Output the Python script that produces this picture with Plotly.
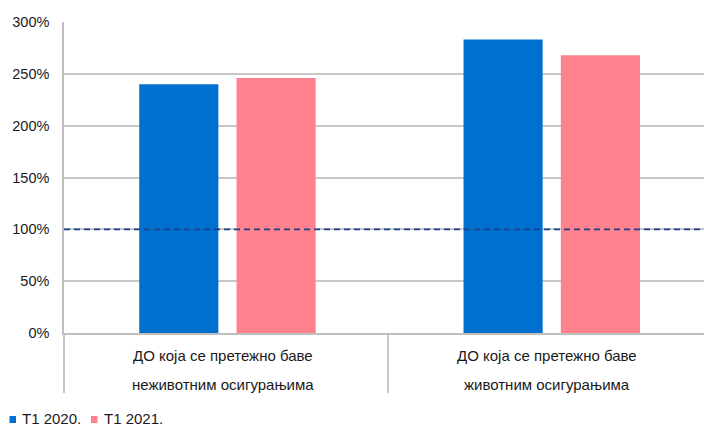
import plotly.graph_objects as go

# Category labels (two lines each), series names and values in percent
categories = [
    ["ДО која се претежно баве", "неживотним осигурањима"],
    ["ДО која се претежно баве", "животним осигурањима"],
]
series_names = ["Т1 2020.", "Т1 2021."]
values_2020 = [240, 283]
values_2021 = [246, 268]
threshold = 100
y_ticks = [0, 50, 100, 150, 200, 250, 300]
y_tick_labels = ["0%", "50%", "100%", "150%", "200%", "250%", "300%"]

colors = ["#0070CE", "#FF818E"]
FONT = "Liberation Sans, Arial, sans-serif"

W, H = 704, 426
L, R, T, B = 64, 0, 22, 93
plot_w = W - L - R
plot_h = H - T - B

x_pos = list(range(len(categories)))

# bar geometry in category units
BAR_W = 0.244
OFFSETS = [-0.268, 0.032]

fig = go.Figure()
for name, vals, col, off in zip(series_names, [values_2020, values_2021], colors, OFFSETS):
    fig.add_trace(go.Bar(
        x=x_pos, y=vals, name=name, width=BAR_W, offset=off,
        marker=dict(color=col, line=dict(width=0)),
        showlegend=False,
    ))

# 100% reference line
fig.add_trace(go.Scatter(
    x=[-0.5, 1.5], y=[threshold, threshold], mode="lines",
    line=dict(color="#1F3F8C", width=1.6, dash="6px,4px"),
    showlegend=False, hoverinfo="skip",
))

fig.update_layout(
    width=W, height=H,
    margin=dict(l=L, r=R, t=T, b=B),
    paper_bgcolor="white", plot_bgcolor="white",
    barmode="overlay",
    font=dict(family=FONT, size=14, color="#1a1a1a"),
    xaxis=dict(
        range=[-0.5, 1.4735], tickvals=x_pos, ticktext=["", ""],
        showgrid=False, zeroline=False, showline=True, linecolor="#BFBFBF", linewidth=1.5,
        ticks="", fixedrange=True,
        minor=dict(tick0=0.5, dtick=1, ticks="outside", ticklen=58,
                   tickcolor="#C8C8C8", tickwidth=1.5, showgrid=False),
    ),
    yaxis=dict(
        range=[0, 300], tickvals=y_ticks, ticktext=y_tick_labels,
        showgrid=True, gridcolor="#C8C8C8", gridwidth=1.5,
        zeroline=False, showline=True, linecolor="#BFBFBF", linewidth=1.5,
        ticks="", ticklabelstandoff=10, tickfont=dict(size=14.5),
    ),
)

# Category labels, one annotation per line
annotations = []
for xi, lines in zip(x_pos, categories):
    for k, line in enumerate(lines):
        annotations.append(dict(
            x=xi - 0.01, xref="x", y=0, yref="paper", yanchor="middle",
            yshift=-(22 + 29 * k), text=line, showarrow=False,
            font=dict(family=FONT, size=15, color="#1a1a1a"),
        ))

# Legend drawn along the bottom edge
def px_x(px):
    return (px - L) / plot_w

def px_y(py):
    return (H - B - py) / plot_h

shapes = []
legend_sq_x = [9.5, 91]
legend_txt_x = [20, 102]
for name, col, sx, tx in zip(series_names, colors, legend_sq_x, legend_txt_x):
    shapes.append(dict(
        type="rect", xref="paper", yref="paper",
        x0=px_x(sx), x1=px_x(sx + 6.5), y0=px_y(423), y1=px_y(416),
        fillcolor=col, line=dict(width=0),
    ))
    annotations.append(dict(
        x=px_x(tx), xref="paper", xanchor="left",
        y=px_y(419), yref="paper", yanchor="middle",
        text=name, showarrow=False,
        font=dict(family=FONT, size=15, color="#1a1a1a"),
    ))

fig.update_layout(annotations=annotations, shapes=shapes)

fig.write_html("out.html")
